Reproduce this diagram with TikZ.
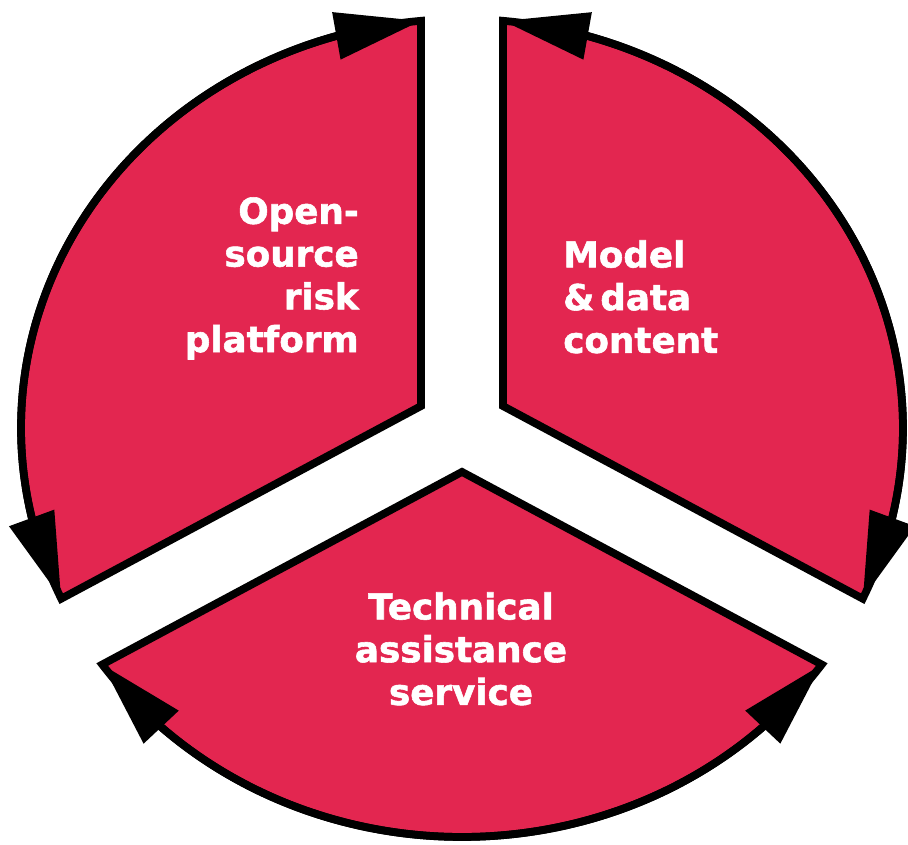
\documentclass[tikz,border=0pt]{standalone}
\usepackage{fontspec}
\newfontfamily\wheelfont{DejaVu Sans}[BoldFeatures={FakeBold=1.6}]
\usetikzlibrary{arrows.meta,bending}

\definecolor{wheelred}{RGB}{227,38,80}

\tikzset{
  sector/.style={fill=wheelred, draw=black, line width=5.5pt, line join=miter},
  cyclearrow/.style={line width=5.5pt,
    {Triangle[length=2.15cm,width=1.15cm]}-{Triangle[length=2.15cm,width=1.15cm]}},
  wheeltext/.style={text=white, inner sep=0pt,
    font=\wheelfont\bfseries\fontsize{25.4pt}{30.4pt}\selectfont}
}

\begin{document}
\begin{tikzpicture}[x=0.025cm, y=0.025cm]
  \useasboundingbox (-462,-416) rectangle (446,428);

  % three sectors, 82 units of gap between them
  \begin{scope}[yscale=0.9274]
    \foreach \a in {30,150,270} {
      \filldraw[sector] (\a:47.34) -- (\a+54.67:441)
        arc[start angle=\a+54.67, end angle=\a-54.67, radius=441] -- cycle;
    }
    \foreach \a in {30,150,270} {
      \draw[cyclearrow] (\a-54.67:441)
        arc[start angle=\a-54.67, end angle=\a+54.67, radius=441];
    }
  \end{scope}

  \node[wheeltext, align=right, anchor=north east] (platform) at (-103,231)
    {Open-\\source\\risk\\platform};
  \node[wheeltext, align=left, anchor=north west] (content) at (101,188)
    {Model\\\&\,data\\content};
  \node[wheeltext, align=center, anchor=north] (service) at (-1,-164)
    {Technical\\assistance\\service};
\end{tikzpicture}
\end{document}
